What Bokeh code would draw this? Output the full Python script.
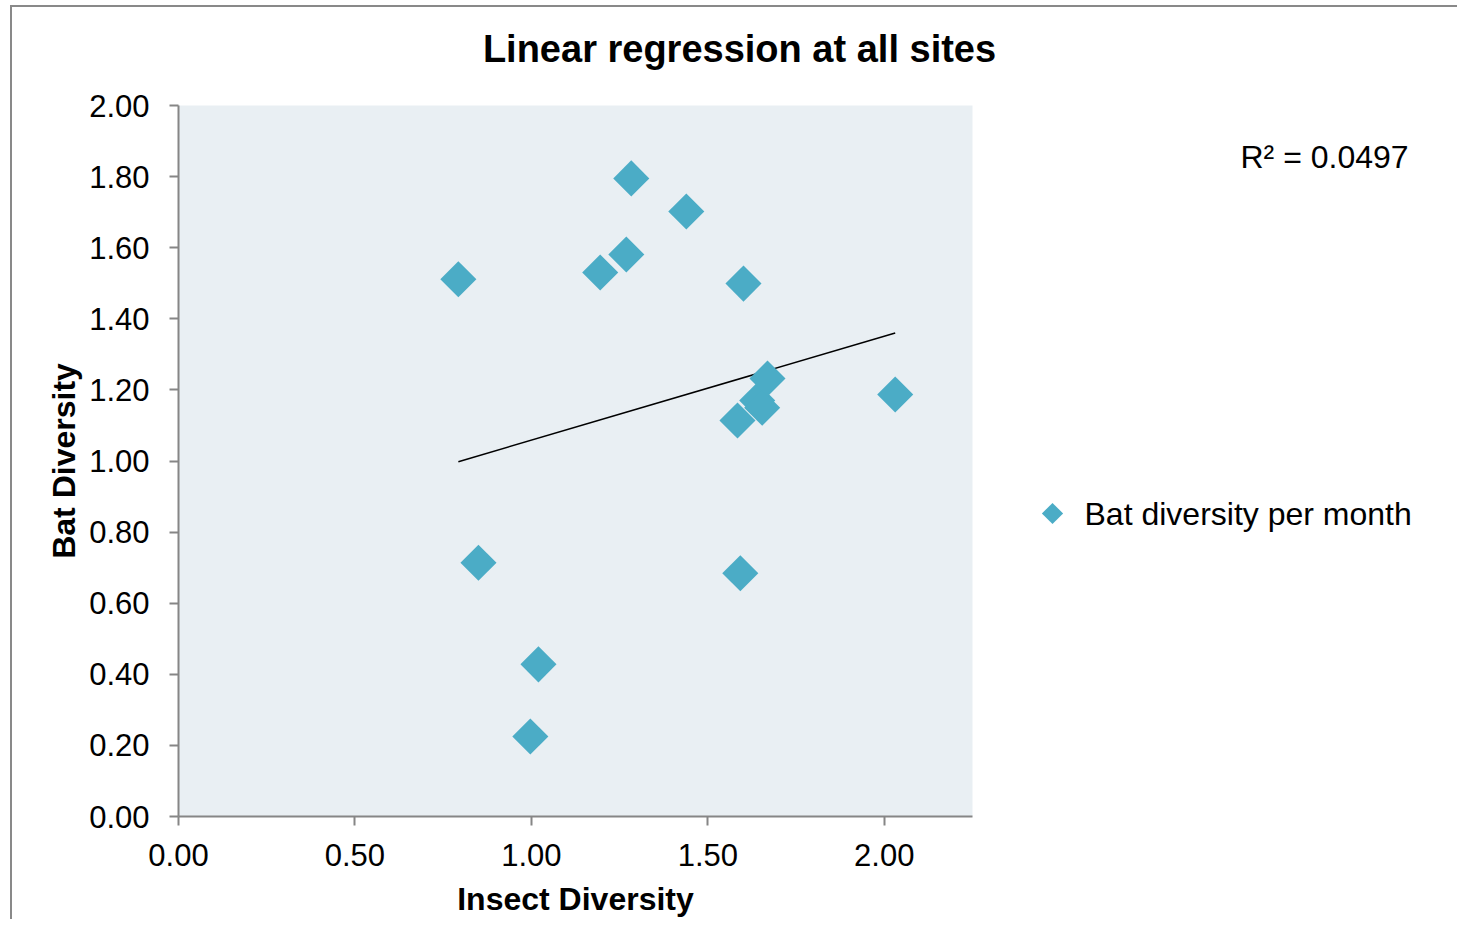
import numpy as np
from bokeh.plotting import figure
from bokeh.layouts import column, row
from bokeh.models import (ColumnDataSource, Range1d, FixedTicker, NumeralTickFormatter)
from bokeh.core.properties import value
from bokeh.embed import file_html
from bokeh.resources import INLINE

# ---- data ----
insect_diversity = [0.793, 0.850, 1.020, 0.997, 1.195, 1.269, 1.283, 1.439,
                    1.601, 1.592, 1.584, 1.640, 1.654, 1.669, 2.031]
bat_diversity = [1.511, 0.714, 0.428, 0.225, 1.530, 1.581, 1.795, 1.702,
                 1.499, 0.684, 1.114, 1.170, 1.150, 1.232, 1.187]
x_ticks = [0.0, 0.5, 1.0, 1.5, 2.0]
y_ticks = [0.0, 0.2, 0.4, 0.6, 0.8, 1.0, 1.2, 1.4, 1.6, 1.8, 2.0]
title_text = "Linear regression at all sites"
x_label = "Insect Diversity"
y_label = "Bat Diversity"
series_name = "Bat diversity per month"
r2_text = "R\u00b2 = 0.0497"

FONT = "Liberation Sans"
MARKER = "#4BACC6"
AXIS_GRAY = "#868686"
TOTAL_W = 1445
TITLE_H = 80
BODY_H = 830
MAIN_W = 988
SIDE_W = TOTAL_W - MAIN_W

# linear trendline computed from the data
slope, intercept = np.polyfit(insect_diversity, bat_diversity, 1)
tx = [min(insect_diversity), max(insect_diversity)]
ty = [slope * v + intercept for v in tx]

src = ColumnDataSource(data=dict(x=insect_diversity, y=bat_diversity))
trend = ColumnDataSource(data=dict(x=tx, y=ty))


def blank(w, h):
    f = figure(frame_width=w, frame_height=h, x_range=Range1d(0, w),
               y_range=Range1d(h, 0), output_backend="svg", toolbar_location=None,
               x_axis_location=None, y_axis_location=None,
               min_border=0, outline_line_color=None,
               background_fill_color="white", border_fill_color="white")
    f.grid.visible = False
    return f


# ---- title strip ----
tf = blank(TOTAL_W, TITLE_H)
tf.text(x=[727], y=[41], text=[title_text], text_font=value(FONT),
        text_font_size="38px", text_font_style="bold", text_align="center",
        text_baseline="alphabetic", text_color="black")

# ---- main chart ----
p = figure(frame_width=794, frame_height=711,
           x_range=Range1d(0, 2.25), y_range=Range1d(0, 2.0),
           output_backend="svg", toolbar_location=None,
           min_border_left=166, min_border_right=MAIN_W - 166 - 794,
           min_border_top=18, min_border_bottom=BODY_H - 18 - 711,
           background_fill_color="#E9EFF3", border_fill_color="white",
           outline_line_color=None)
p.xgrid.visible = False
p.ygrid.visible = False

p.line("x", "y", source=trend, line_color="black", line_width=1.5)
p.scatter("x", "y", source=src, marker="square", angle=np.pi / 4, size=25.5,
          fill_color=MARKER, line_color=None)

for ax in (p.xaxis[0], p.yaxis[0]):
    ax.axis_line_color = AXIS_GRAY
    ax.axis_line_width = 2
    ax.major_tick_line_color = AXIS_GRAY
    ax.major_tick_line_width = 2
    ax.major_tick_in = 0
    ax.major_tick_out = 9
    ax.minor_tick_line_color = None
    ax.major_label_text_font = FONT
    ax.major_label_text_font_size = "31px"
    ax.major_label_text_color = "black"
    ax.axis_label_text_font = FONT
    ax.axis_label_text_font_size = "32px"
    ax.axis_label_text_font_style = "bold"
    ax.axis_label_text_color = "black"
    ax.formatter = NumeralTickFormatter(format="0.00")

p.xaxis.ticker = FixedTicker(ticks=x_ticks)
p.yaxis.ticker = FixedTicker(ticks=y_ticks)
p.xaxis.axis_label = x_label
p.yaxis.axis_label = y_label
p.xaxis.major_label_standoff = 18
p.yaxis.major_label_standoff = 20
p.xaxis.axis_label_standoff = 12
p.yaxis.axis_label_standoff = 4

# ---- side area: R² note and legend ----
sf = blank(SIDE_W, BODY_H)
sf.text(x=[240], y=[51], text=[r2_text], text_font=value(FONT),
        text_font_size="32px", text_align="left", text_baseline="alphabetic",
        text_color="black")
sf.scatter(x=[52], y=[408], marker="square", angle=np.pi / 4, size=15,
           fill_color=MARKER, line_color=None)
sf.text(x=[84], y=[408], text=[series_name], text_font=value(FONT),
        text_font_size="32px", text_align="left", text_baseline="middle",
        text_color="black")

layout = column(tf, row(p, sf, spacing=0), spacing=0)
layout.styles = {"margin-left": "10px", "margin-top": "5px",
                 "border-left": "2px solid #898989", "border-top": "2px solid #898989"}

open("out.html", "w").write(file_html(layout, INLINE))
